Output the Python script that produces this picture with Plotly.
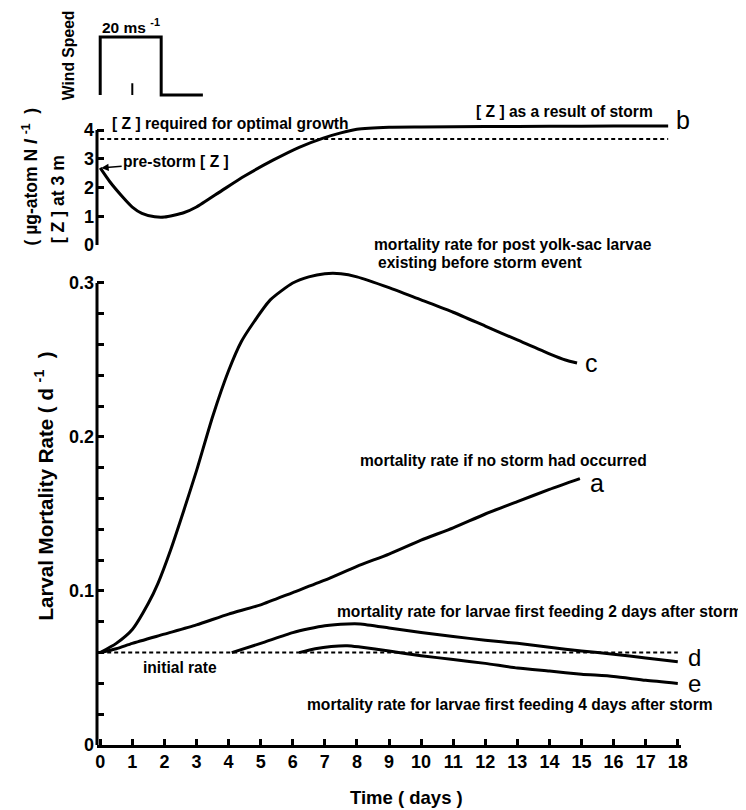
import plotly.graph_objects as go

# ---------------- data ----------------
# wind speed step (m s-1) vs time (days)
wind_t = [0, 0, 1.9, 1.9, 3.2]
wind_v = [0, 20, 20, 0, 0]
wind_tick_t = [1, 1]
wind_tick_v = [0, 4]

# [Z] at 3 m (ug-atom N l-1), curve b
z_t = [0, 0.3, 0.7, 1.0, 1.3, 1.7, 2.0, 2.6, 3.0, 3.8, 4.5, 5.4, 6.2, 6.95, 7.5, 8.0, 9.0, 10, 12, 14, 16, 17.7]
z_v = [2.68, 2.2, 1.67, 1.32, 1.1, 0.98, 0.97, 1.12, 1.32, 1.9, 2.4, 2.96, 3.4, 3.72, 3.9, 4.03, 4.1, 4.11, 4.12, 4.13, 4.14, 4.14]
z_opt_t = [0, 17.7]
z_opt_v = [3.69, 3.69]

# larval mortality rate (d-1)
a_t = [0, 0.5, 1, 2, 3, 4, 5, 6, 7, 8, 9, 10, 11, 12, 13, 14, 14.95]
a_v = [0.060, 0.0625, 0.066, 0.072, 0.078, 0.085, 0.091, 0.099, 0.107, 0.116, 0.124, 0.133, 0.141, 0.150, 0.158, 0.166, 0.173]

c_t = [0, 0.5, 1.0, 1.5, 1.8, 2.2, 2.6, 3.0, 3.5, 4.0, 4.4, 4.8, 5.3, 6.0, 6.5, 7.0, 7.5, 8.0, 9.0, 10.0, 11.0, 12.0, 13.0, 14.0, 14.5, 14.86]
c_v = [0.060, 0.066, 0.075, 0.092, 0.105, 0.127, 0.152, 0.178, 0.213, 0.243, 0.262, 0.275, 0.289, 0.300, 0.304, 0.306, 0.306, 0.304, 0.297, 0.289, 0.281, 0.272, 0.263, 0.254, 0.250, 0.248]

d_t = [4.1, 5, 6, 6.5, 7, 7.7, 8.1, 9, 10, 11, 12, 13, 14, 15, 16, 17, 18]
d_v = [0.060, 0.066, 0.073, 0.0755, 0.0775, 0.0786, 0.0786, 0.076, 0.073, 0.0705, 0.068, 0.066, 0.0635, 0.061, 0.059, 0.0565, 0.054]

e_t = [6.2, 6.7, 7.2, 7.7, 8.1, 9, 10, 11, 12, 13, 14, 15, 16, 17, 18]
e_v = [0.060, 0.0625, 0.064, 0.0645, 0.0636, 0.061, 0.058, 0.0555, 0.053, 0.050, 0.048, 0.046, 0.0445, 0.042, 0.040]

init_t = [0, 18]
init_v = [0.06, 0.06]

x_ticks = list(range(0, 19))
y_ticks = [round(i * 0.02, 2) for i in range(16)]
y_ticktext = ["0", "", "", "", "", "0.1", "", "", "", "", "0.2", "", "", "", "", "0.3"]
z_ticks = [0, 1, 2, 3, 4]

# ---------------- layout constants ----------------
SANS = "Liberation Sans, Arial, sans-serif"
BLACK = "black"
LW = 3
TXT = 15.6

X_RANGE = [-0.1, 18.1]
Y_RANGE, Y_DOM = [0, 0.31], [0, 0.6585]
Z_RANGE, Z_DOM = [0, 4.3], [0.6897, 0.8601]
W_RANGE, W_DOM = [-1, 21], [0.8926, 0.9806]


def px_x(v):
    return (v - X_RANGE[0]) / (X_RANGE[1] - X_RANGE[0])


def px_y(v, rng, dom):
    return dom[0] + (v - rng[0]) / (rng[1] - rng[0]) * (dom[1] - dom[0])


fig = go.Figure()

solid = dict(color=BLACK, width=LW)
dashed = dict(color=BLACK, width=2, dash="4px,3px")
smooth = dict(color=BLACK, width=LW, shape="spline", smoothing=0.6)

fig.add_trace(go.Scatter(x=wind_t, y=wind_v, mode="lines", line=solid, xaxis="x", yaxis="y3"))
fig.add_trace(go.Scatter(x=wind_tick_t, y=wind_tick_v, mode="lines", line=dict(color=BLACK, width=2), xaxis="x", yaxis="y3"))

fig.add_trace(go.Scatter(x=z_opt_t, y=z_opt_v, mode="lines", line=dashed, xaxis="x", yaxis="y2"))
fig.add_trace(go.Scatter(x=z_t, y=z_v, mode="lines", line=smooth, xaxis="x", yaxis="y2"))

fig.add_trace(go.Scatter(x=init_t, y=init_v, mode="lines", line=dashed))
for t, v in [(a_t, a_v), (c_t, c_v), (d_t, d_v), (e_t, e_v)]:
    fig.add_trace(go.Scatter(x=t, y=v, mode="lines", line=smooth))

tickfont = dict(family=SANS, size=18, color=BLACK, weight="bold")

fig.update_layout(
    template="none",
    width=738, height=802,
    margin=dict(l=88.8, r=64.8, t=12, b=65, autoexpand=False),
    paper_bgcolor="white", plot_bgcolor="white",
    showlegend=False,
    xaxis=dict(range=X_RANGE, tickvals=x_ticks, ticks="inside", ticklen=6, tickwidth=2.5,
               tickcolor=BLACK, showline=True, linewidth=LW, linecolor=BLACK, showgrid=False,
               zeroline=False, tickfont=tickfont, anchor="y", ticklabelstandoff=-2, automargin=False),
    yaxis=dict(domain=Y_DOM, range=Y_RANGE, tickvals=y_ticks, ticktext=y_ticktext,
               ticks="inside", ticklen=7, tickwidth=2.5, tickcolor=BLACK, showline=False,
               showgrid=False, zeroline=False, tickfont=tickfont, anchor="x", ticklabelstandoff=2,
               automargin=False),
    yaxis2=dict(domain=Z_DOM, range=Z_RANGE, tickvals=z_ticks, ticks="inside",
                ticklen=7, tickwidth=2.5, tickcolor=BLACK, showline=False, showgrid=False,
                zeroline=False, tickfont=tickfont, anchor="x", ticklabelstandoff=2, automargin=False),
    yaxis3=dict(domain=W_DOM, range=W_RANGE, visible=False, anchor="x"),
)

# axis spines drawn to the tick range
fig.add_shape(type="line", xref="paper", yref="y", x0=0, x1=0, y0=0, y1=0.3, line=dict(color=BLACK, width=LW))
fig.add_shape(type="line", xref="paper", yref="y2", x0=0, x1=0, y0=0, y1=4, line=dict(color=BLACK, width=LW))


def ann(text, x, y, rng=Y_RANGE, dom=Y_DOM, size=TXT, weight="bold", angle=0, xanchor="center"):
    fig.add_annotation(text=text, x=px_x(x), y=px_y(y, rng, dom), xref="paper", yref="paper",
                       showarrow=False, textangle=angle, xanchor=xanchor, yanchor="middle",
                       font=dict(family=SANS, size=size, color=BLACK, weight=weight))


# wind panel
ann("20 ms <sup>-1</sup>", 0.95, 23.8, W_RANGE, W_DOM, size=15.5)
ann("Wind Speed", -0.965, 13.8, W_RANGE, W_DOM, size=15.7, angle=-90)

# upper panel
ann("[ Z ] required for optimal growth", 4.05, 4.24, Z_RANGE, Z_DOM)
ann("[ Z ] as a result of storm", 14.47, 4.63, Z_RANGE, Z_DOM)
ann("b", 18.16, 4.35, Z_RANGE, Z_DOM, size=25, weight="normal")
ann("[ Z ] at 3 m", -1.31, 1.6, Z_RANGE, Z_DOM, size=17.6, angle=-90)
ann("( µg-atom N <i>l</i> <sup>-1</sup>  )", -2.2, 2.37, Z_RANGE, Z_DOM, size=17.5, angle=-90)
fig.add_annotation(text="pre-storm [ Z ]", x=0.03, y=2.68, xref="x", yref="y2",
                   showarrow=True, ax=75, ay=-6, arrowhead=2, arrowsize=1, arrowwidth=1.5,
                   arrowcolor=BLACK, font=dict(family=SANS, size=TXT, color=BLACK, weight="bold"))

# lower panel
ann("mortality rate for post yolk-sac larvae", 8.47, 0.3253, xanchor="left")
ann("existing before storm event", 8.6, 0.313, xanchor="left")
ann("c", 15.32, 0.248, size=25, weight="normal")
ann("mortality rate if no storm had occurred", 12.57, 0.185)
ann("a", 15.48, 0.170, size=25, weight="normal")
ann("mortality rate for larvae first feeding 2 days after storm", 13.7, 0.087)
ann("d", 18.53, 0.0565, size=24, weight="normal")
ann("e", 18.53, 0.040, size=24, weight="normal")
ann("mortality rate for larvae first feeding 4 days after storm", 12.77, 0.026)
ann("initial rate", 2.49, 0.0506)
ann("Time ( days )", 9.56, -0.034, size=18.5)
ann("Larval Mortality Rate ( d <sup>-1</sup>  )", -1.745, 0.168, size=20.5, angle=-90)

fig.write_html("out.html")
